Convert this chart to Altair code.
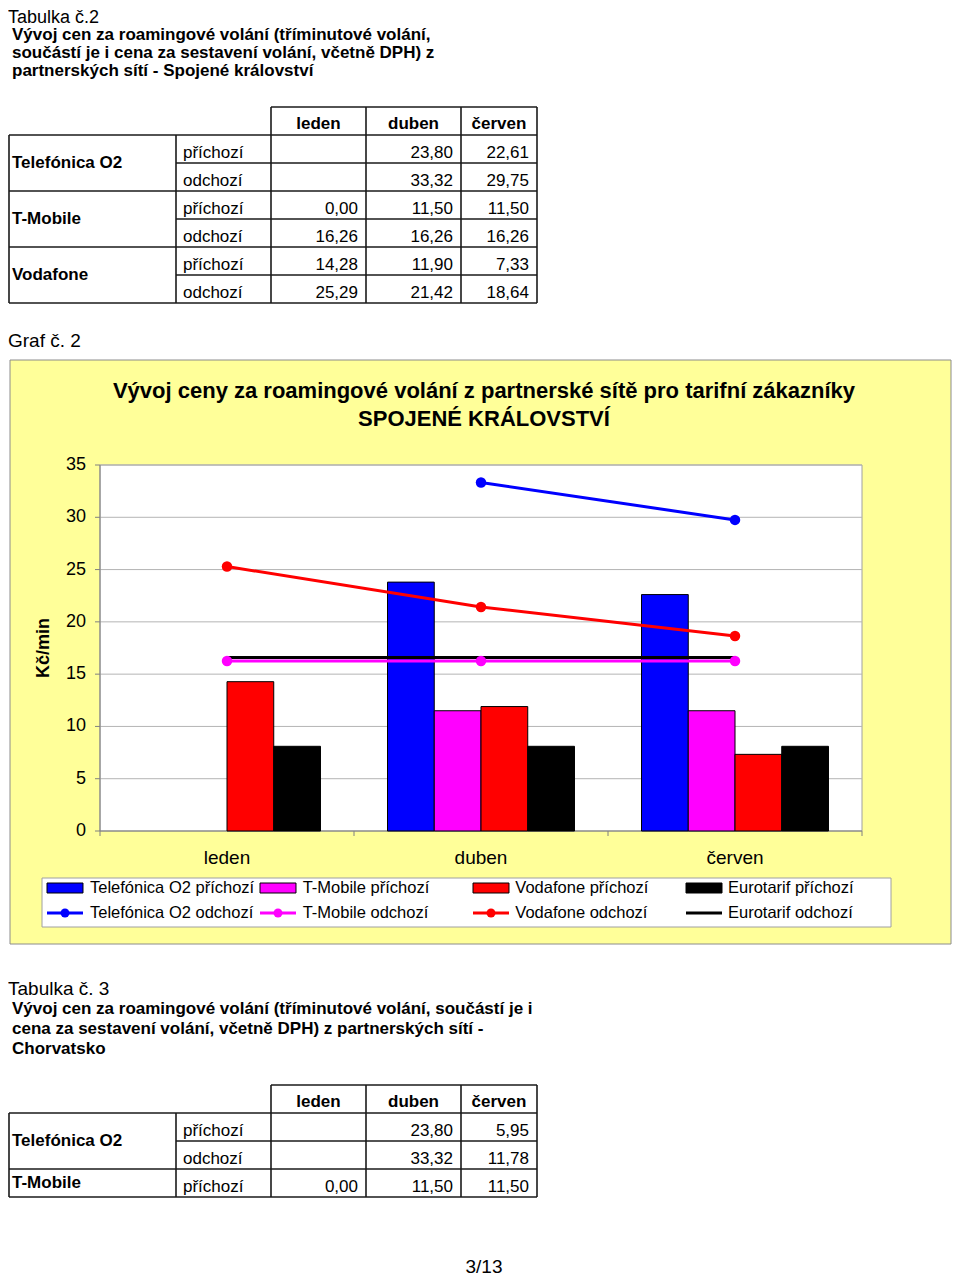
import altair as alt
import pandas as pd

FONT = "Liberation Sans"

# ---------------- data ----------------
months = ["leden", "duben", "červen"]
bar_series = ["Telefónica O2 příchozí", "T-Mobile příchozí", "Vodafone příchozí", "Eurotarif příchozí"]
line_series = ["Telefónica O2 odchozí", "T-Mobile odchozí", "Vodafone odchozí", "Eurotarif odchozí"]
series_colors = ["#0000FF", "#FF00FF", "#FF0000", "#000000"]

o2_in = [None, 23.80, 22.61]
o2_out = [None, 33.32, 29.75]
tm_in = [0.00, 11.50, 11.50]
tm_out = [16.26, 16.26, 16.26]
vf_in = [14.28, 11.90, 7.33]
vf_out = [25.29, 21.42, 18.64]
eu_in = [8.10, 8.10, 8.10]
eu_out = [16.60, 16.60, 16.60]

y_ticks = [0, 5, 10, 15, 20, 25, 30, 35]

# Croatia table
hr_o2_in = [None, 23.80, 5.95]
hr_o2_out = [None, 33.32, 11.78]
hr_tm_in = [0.00, 11.50, 11.50]

operators = ["Telefónica O2", "T-Mobile", "Vodafone"]
directions = ["příchozí", "odchozí"]

t2_title = "Tabulka č.2"
t2_lines = ["Vývoj cen za roamingové volání (tříminutové volání,",
            "součástí je i cena za sestavení volání, včetně DPH) z",
            "partnerských sítí - Spojené království"]
graph_caption = "Graf č. 2"
chart_title = ["Vývoj ceny za roamingové volání z partnerské sítě pro tarifní zákazníky",
               "SPOJENÉ KRÁLOVSTVÍ"]
y_title = "Kč/min"
t3_title = "Tabulka č. 3"
t3_lines = ["Vývoj cen za roamingové volání (tříminutové volání, součástí je i",
            "cena za sestavení volání, včetně DPH) z partnerských sítí -",
            "Chorvatsko"]
page_no = "3/13"

# ---------------- helpers ----------------
one = pd.DataFrame({"a": [0]})


def fmt(v):
    return "" if v is None else f"{v:.2f}".replace(".", ",")


def label(text, x, y, size=17, bold=False, align="left", angle=0, baseline="middle"):
    return alt.Chart(one).mark_text(
        text=text, font=FONT, fontSize=size, fontWeight="bold" if bold else "normal",
        align=align, baseline=baseline, color="black", angle=angle
    ).encode(x=alt.value(x), y=alt.value(y))


def box(x, x2, y, y2, fill, stroke, sw=1):
    return alt.Chart(one).mark_rect(fill=fill, stroke=stroke, strokeWidth=sw).encode(
        x=alt.value(x), x2=alt.value(x2), y=alt.value(y), y2=alt.value(y2))


TABLE_X = [1, 168, 263, 358, 453, 529]
TFS = 17


def table(groups, yrange):
    n_rows = sum(len(g[1]) for g in groups)
    xs_t = alt.Scale(type="linear", domain=[0, 1, 2, 3, 4, 5], range=TABLE_X, nice=False, zero=False)
    ys_t = alt.Scale(type="linear", domain=[0, n_rows + 1], range=yrange, nice=False, zero=False)
    hseg, vseg, head, dirs, vals, ops = [], [], [], [], [], []
    hseg.append(dict(r=0, a=2, b=5))
    hseg.append(dict(r=1, a=0, b=5))
    r = 1
    for op, rows in groups:
        ops.append(dict(t=op, y=r + len(rows) / 2))
        for k, (d, values) in enumerate(rows):
            dirs.append(dict(t=d, y=r + 0.5))
            for i, v in enumerate(values):
                vals.append(dict(t=fmt(v), x=3 + i, y=r + 0.5))
            r += 1
            hseg.append(dict(r=r, a=0 if k == len(rows) - 1 else 1, b=5))
    for c in [2, 3, 4, 5]:
        vseg.append(dict(c=c, a=0, b=1))
    for c in range(6):
        vseg.append(dict(c=c, a=1, b=r))
    for i, m in enumerate(months):
        head.append(dict(t=m, x=2.5 + i, y=0.5))

    X = lambda f: alt.X(f, scale=xs_t, axis=None)
    Y = lambda f: alt.Y(f, scale=ys_t, axis=None)
    lc = "#1a1a1a"
    layers = [
        alt.Chart(pd.DataFrame(hseg)).mark_rule(color=lc, strokeWidth=1.6).encode(
            x=X("a:Q"), x2="b:Q", y=Y("r:Q")),
        alt.Chart(pd.DataFrame(vseg)).mark_rule(color=lc, strokeWidth=1.6).encode(
            x=X("c:Q"), y=Y("a:Q"), y2="b:Q"),
        alt.Chart(pd.DataFrame(head)).mark_text(font=FONT, fontSize=TFS, fontWeight="bold",
                                                align="center", baseline="middle", dy=3).encode(
            x=X("x:Q"), y=Y("y:Q"), text="t:N"),
        alt.Chart(pd.DataFrame(dirs).assign(x=1)).mark_text(font=FONT, fontSize=TFS, align="left",
                                                             baseline="middle", dx=7, dy=4).encode(
            x=X("x:Q"), y=Y("y:Q"), text="t:N"),
        alt.Chart(pd.DataFrame(vals)).mark_text(font=FONT, fontSize=TFS, align="right",
                                                baseline="middle", dx=-8, dy=4).encode(
            x=X("x:Q"), y=Y("y:Q"), text="t:N"),
        alt.Chart(pd.DataFrame(ops).assign(x=0)).mark_text(font=FONT, fontSize=TFS, fontWeight="bold",
                                                            align="left", baseline="middle", dx=3).encode(
            x=X("x:Q"), y=Y("y:Q"), text="t:N"),
    ]
    return layers


# ---------------- tables ----------------
t2_groups = [
    (operators[0], [(directions[0], o2_in), (directions[1], o2_out)]),
    (operators[1], [(directions[0], tm_in), (directions[1], tm_out)]),
    (operators[2], [(directions[0], vf_in), (directions[1], vf_out)]),
]
t3_groups = [
    (operators[0], [(directions[0], hr_o2_in), (directions[1], hr_o2_out)]),
    (operators[1], [(directions[0], hr_tm_in)]),
]

# ---------------- chart ----------------
bar_vals = [o2_in, tm_in, vf_in, eu_in]
line_vals = [o2_out, tm_out, vf_out, eu_out]
bar_df = pd.DataFrame([dict(month=m, series=s, value=v[i])
                       for s, v in zip(bar_series, bar_vals) for i, m in enumerate(months) if v[i] is not None])
line_df = pd.DataFrame([dict(month=m, series=s, value=v[i])
                        for s, v in zip(line_series, line_vals) for i, m in enumerate(months) if v[i] is not None])
point_df = line_df[line_df["series"] != line_series[3]]

ys = alt.Scale(type="linear", domain=[0, 35], range=[823, 457], nice=False, zero=False)
xs = alt.Scale(type="band", domain=months, range=[92, 854], paddingInner=0, paddingOuter=0)
xo = alt.Scale(type="band", domain=bar_series, paddingInner=0, paddingOuter=0.717)
xb = alt.Scale(type="linear", domain=[0, len(months)], range=[92, 854], nice=False, zero=False)
fill_scale = alt.Scale(domain=bar_series, range=series_colors)
stroke_scale = alt.Scale(domain=line_series, range=series_colors)

tick_df = pd.DataFrame({"v": y_ticks, "t": [str(v) for v in y_ticks]})
bound_df = pd.DataFrame({"b": list(range(len(months) + 1))})
month_df = pd.DataFrame({"month": months})

grid = alt.Chart(tick_df[tick_df["v"] > 0]).mark_rule(color="#B4B4B4", strokeWidth=1).encode(
    x=alt.value(92), x2=alt.value(854), y=alt.Y("v:Q", scale=ys, axis=None))
yticks = alt.Chart(tick_df).mark_rule(color="#808080", strokeWidth=1).encode(
    x=alt.value(87), x2=alt.value(92), y=alt.Y("v:Q", scale=ys, axis=None))
ylabels = alt.Chart(tick_df).mark_text(font=FONT, fontSize=18, align="right", baseline="middle").encode(
    x=alt.value(78), y=alt.Y("v:Q", scale=ys, axis=None), text="t:N")
yaxis = alt.Chart(one).mark_rule(color="#808080", strokeWidth=1).encode(
    x=alt.value(92), y=alt.value(457), y2=alt.value(823))
xaxis = alt.Chart(one).mark_rule(color="#808080", strokeWidth=1).encode(
    x=alt.value(92), x2=alt.value(854), y=alt.Y("a:Q", scale=ys, axis=None))
xticks = alt.Chart(bound_df).mark_rule(color="#808080", strokeWidth=1).encode(
    x=alt.X("b:Q", scale=xb, axis=None), y=alt.value(823), y2=alt.value(828))
xlabels = alt.Chart(month_df).mark_text(font=FONT, fontSize=19, align="center", baseline="middle").encode(
    x=alt.X("month:N", scale=xs, axis=None, sort=months), y=alt.value(850), text="month:N")

bars = alt.Chart(bar_df).transform_filter("datum.value > 0").mark_bar(stroke="black", strokeWidth=1).encode(
    x=alt.X("month:N", scale=xs, axis=None, sort=months),
    xOffset=alt.XOffset("series:N", scale=xo, sort=bar_series),
    y=alt.Y("value:Q", scale=ys, axis=None),
    y2=alt.datum(0),
    fill=alt.Fill("series:N", scale=fill_scale, legend=None),
)
lines = alt.Chart(line_df).mark_line(strokeWidth=3).encode(
    x=alt.X("month:N", scale=xs, axis=None, sort=months),
    y=alt.Y("value:Q", scale=ys, axis=None),
    stroke=alt.Stroke("series:N", scale=stroke_scale, legend=None),
    detail="series:N",
)
points = alt.Chart(point_df).mark_circle(size=110, opacity=1).encode(
    x=alt.X("month:N", scale=xs, axis=None, sort=months),
    y=alt.Y("value:Q", scale=ys, axis=None),
    fill=alt.Fill("series:N", scale=stroke_scale, legend=None),
)

# ---------------- legend ----------------
leg_rows = []
for i, s in enumerate(bar_series):
    leg_rows.append(dict(col=i, row=0, label=s, kind="bar"))
for i, s in enumerate(line_series):
    leg_rows.append(dict(col=i, row=1, label=s, kind="line"))
leg_df = pd.DataFrame(leg_rows)
leg_bar = leg_df[leg_df["kind"] == "bar"].assign(r=directions[0])
leg_line = leg_df[leg_df["kind"] == "line"].assign(r=directions[1])
leg_pt = leg_line[leg_line["label"] != line_series[3]]

lx = alt.Scale(type="band", domain=[0, 1, 2, 3], range=[39, 714], paddingInner=0.831, paddingOuter=0)
ly_bar = alt.Scale(type="band", domain=[directions[0]], range=[875, 885], paddingInner=0, paddingOuter=0)
ly_line = alt.Scale(type="band", domain=[directions[1]], range=[903.5, 906.5], paddingInner=0, paddingOuter=0)
ltx = alt.Scale(type="linear", domain=[0, 3], range=[82, 720], nice=False, zero=False)
lty = alt.Scale(type="linear", domain=[0, 1], range=[880, 905], nice=False, zero=False)

leg_bar_sym = alt.Chart(leg_bar).mark_rect(stroke="black", strokeWidth=1).encode(
    x=alt.X("col:O", scale=lx, axis=None), y=alt.Y("r:N", scale=ly_bar, axis=None),
    fill=alt.Fill("label:N", scale=fill_scale, legend=None))
leg_line_sym = alt.Chart(leg_line).mark_rect().encode(
    x=alt.X("col:O", scale=lx, axis=None), y=alt.Y("r:N", scale=ly_line, axis=None),
    fill=alt.Fill("label:N", scale=stroke_scale, legend=None))
leg_pt_sym = alt.Chart(leg_pt).mark_circle(size=80, opacity=1).encode(
    x=alt.X("col:O", scale=lx, axis=None), y=alt.Y("r:N", scale=ly_line, axis=None),
    fill=alt.Fill("label:N", scale=stroke_scale, legend=None))
leg_text = alt.Chart(leg_df).mark_text(font=FONT, fontSize=16.5, align="left", baseline="middle").encode(
    x=alt.X("col:Q", scale=ltx, axis=None), y=alt.Y("row:Q", scale=lty, axis=None), text="label:N")

# ---------------- assemble ----------------
layers = [
    # page texts
    label(t2_title, 0, 10, 18),
    label(t2_lines[0], 4, 27, 17, True),
    label(t2_lines[1], 4, 45, 17, True),
    label(t2_lines[2], 4, 63, 17, True),
    *table(t2_groups, [99, 295]),
    label(graph_caption, 0, 333, 19),
    # chart frame
    box(2, 943, 352, 936, "#FFFF99", "#8C8C8C", 1),
    label(chart_title[0], 476, 383, 22, True, "center"),
    label(chart_title[1], 476, 411, 22, True, "center"),
    box(92, 854, 457, 823, "#FFFFFF", "#A0A0A0", 1),
    grid, yticks, yaxis, xaxis, xticks, ylabels, xlabels,
    label(y_title, 36, 640, 18, True, "center", 270),
    bars, lines, points,
    box(34, 883, 870, 919, "#FFFFFF", "#A0A0A0", 1),
    leg_bar_sym, leg_line_sym, leg_pt_sym, leg_text,
    # second table
    label(t3_title, 0, 981, 19),
    label(t3_lines[0], 4, 1001, 17, True),
    label(t3_lines[1], 4, 1021, 17, True),
    label(t3_lines[2], 4, 1041, 17, True),
    *table(t3_groups, [1077, 1189]),
    label(page_no, 476, 1269, 19, False, "center", 0, "bottom"),
]

chart = alt.layer(*layers).resolve_scale(
    x="independent", y="independent", fill="independent", stroke="independent", xOffset="independent"
).properties(
    width=944, height=1269, padding=0, autosize="none", background="white"
).configure_view(strokeWidth=0)

chart.save("out.html", embed_options={"renderer": "svg", "actions": False})
